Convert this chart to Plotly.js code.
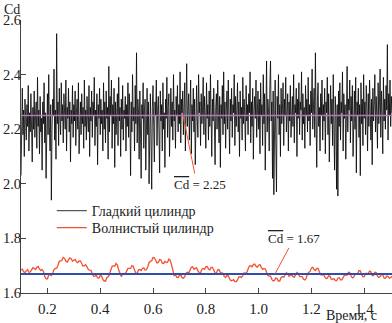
<!DOCTYPE html>
<html><head><meta charset="utf-8">
<script src="https://cdn.plot.ly/plotly-3.0.1.min.js"></script>
<style>html,body{margin:0;padding:0;background:#fff}#chart{width:392px;height:323px}</style>
</head><body><div id="chart"></div>
<script>
// time grid
const smoothT0 = 0.1, smoothDt = 0.0025;
const wavyT0 = 0.1, wavyDt = 0.005;
// Гладкий цилиндр (smooth cylinder) Cd values
const smoothCd = [
2.03,2.22,2.35,2.18,2.27,2.10,2.31,2.24,2.16,2.29,2.21,2.36,2.12,2.26,2.19,2.33,2.23,2.08,2.28,2.20,
2.34,2.17,2.25,2.30,2.13,2.39,2.21,2.27,2.11,2.32,2.19,2.24,2.05,2.30,2.22,2.37,2.15,2.26,2.02,2.28,
2.33,2.18,2.40,2.21,2.12,2.29,1.94,2.20,2.31,2.25,2.42,2.16,2.27,2.09,2.55,2.22,2.30,2.14,2.35,2.24,
2.18,2.37,2.23,2.29,2.15,2.33,2.26,2.20,2.38,2.12,2.28,2.24,2.35,2.19,2.30,2.08,2.27,2.22,2.36,2.17,
2.29,2.23,2.34,2.14,2.26,2.31,2.20,2.37,2.11,2.25,2.30,2.18,2.33,2.22,2.28,2.13,2.38,2.21,2.27,2.16,
2.32,2.24,2.19,2.36,2.10,2.28,2.23,2.34,2.17,2.30,2.25,2.39,2.14,2.27,2.21,2.33,2.07,2.29,2.24,2.35,
2.18,2.31,2.22,2.27,2.12,2.37,2.20,2.30,2.15,2.34,2.24,2.28,2.09,2.43,2.19,2.32,2.25,2.38,2.13,2.29,
2.22,2.35,2.06,2.30,2.18,2.26,2.33,2.14,2.39,2.23,2.28,2.10,2.31,2.20,2.36,2.16,2.27,2.24,2.32,2.12,
2.29,2.21,2.37,2.17,2.33,2.25,2.03,2.30,2.19,2.40,2.23,2.28,2.12,2.36,2.22,2.48,2.15,2.31,2.26,2.09,
2.34,2.20,2.02,2.29,2.24,2.37,2.13,2.27,2.31,2.05,2.26,2.35,2.18,2.30,2.00,2.22,2.33,2.16,1.98,2.28,
2.36,2.21,2.08,2.30,2.25,2.38,2.14,2.27,2.32,2.19,2.04,2.34,2.23,2.29,2.12,2.37,2.20,2.26,2.06,2.31,
2.24,2.39,2.17,2.28,2.33,2.10,2.26,2.35,2.21,2.30,2.16,2.40,2.23,2.27,2.13,2.32,2.25,2.36,2.19,2.29,
2.22,2.41,2.15,2.31,2.26,2.34,2.18,2.28,2.37,2.12,2.30,2.44,2.21,2.27,2.33,2.16,2.25,2.38,2.11,2.29,
2.23,2.35,2.19,2.31,2.07,2.28,2.36,2.24,2.17,2.40,2.26,2.30,2.14,2.33,2.22,2.27,2.39,2.18,2.32,2.25,
2.13,2.37,2.24,2.29,2.16,2.34,2.21,2.40,2.27,2.10,2.31,2.23,2.35,2.19,2.07,2.28,2.33,2.20,2.38,2.26,
2.15,2.32,2.06,2.29,2.24,2.36,2.18,2.41,2.22,2.30,2.13,2.27,2.34,2.20,2.38,2.25,2.11,2.31,2.23,2.35,
2.17,2.29,2.26,2.40,2.14,2.32,2.21,2.27,2.37,2.19,2.30,2.10,2.34,2.24,2.28,2.16,2.39,2.22,2.31,2.25,
2.12,2.36,2.23,2.29,2.18,2.33,2.26,2.41,2.15,2.30,2.21,2.35,2.09,2.27,2.32,2.24,2.38,2.17,2.28,2.34,
2.20,2.31,2.11,2.37,2.25,2.29,2.14,2.40,2.22,2.33,2.05,2.28,2.45,2.19,2.31,2.26,2.12,2.36,2.45,2.23,
2.30,2.02,2.34,1.96,2.27,2.38,2.15,1.97,2.32,2.24,2.40,2.18,2.29,2.10,2.35,2.22,2.27,2.37,2.14,2.31,
2.25,2.39,2.19,2.28,2.33,2.12,2.30,2.23,2.36,2.17,2.27,2.32,2.21,2.40,2.15,2.29,2.26,2.35,2.10,2.31,
2.24,2.37,2.18,2.30,2.27,2.41,2.16,2.33,2.22,2.28,2.13,2.36,2.25,2.31,2.19,2.39,2.23,2.29,2.14,2.34,
2.26,2.42,2.20,2.31,2.35,2.17,2.48,2.24,2.06,2.30,2.37,2.21,2.28,2.12,2.33,2.25,2.38,2.16,2.29,2.23,
2.35,2.11,2.30,2.26,2.39,2.18,2.33,2.08,2.27,2.36,2.22,2.31,2.14,2.40,2.20,2.05,2.32,2.25,1.98,2.29,
1.955,2.34,2.21,2.37,2.16,2.30,2.26,2.41,2.12,2.33,2.24,2.29,2.09,2.36,2.43,2.19,2.31,2.27,2.38,2.15,
2.32,2.23,2.36,2.10,2.28,2.34,2.20,2.39,2.04,2.30,2.25,2.35,2.17,2.29,2.03,2.37,2.22,2.31,2.14,2.40,
2.24,2.30,2.18,2.36,2.27,2.12,2.33,2.21,2.38,2.26,2.16,2.31,2.07,2.35,2.23,2.29,2.40,2.19,2.32,2.25,
2.13,2.37,2.22,2.30,2.42,2.17,2.34,2.26,2.11,2.39,2.23,2.31,2.20,2.36,2.27,2.51,2.16,2.33,2.25,2.38,
2.21,2.32,2.26
];
// Волнистый цилиндр (wavy cylinder) Cd values
const wavyCd = [
1.684,1.687,1.678,1.675,1.681,1.686,1.676,1.677,1.685,1.693,
1.690,1.686,1.694,1.697,1.688,1.682,1.686,1.679,1.660,1.652,
1.652,1.666,1.668,1.664,1.672,1.686,1.690,1.691,1.702,1.716,
1.718,1.720,1.730,1.727,1.716,1.713,1.722,1.729,1.726,1.717,
1.720,1.723,1.714,1.711,1.718,1.718,1.708,1.698,1.700,1.704,
1.696,1.686,1.684,1.683,1.670,1.661,1.662,1.665,1.656,1.654,
1.664,1.662,1.650,1.644,1.644,1.656,1.660,1.667,1.684,1.697,
1.700,1.698,1.708,1.702,1.684,1.667,1.660,1.671,1.672,1.670,
1.680,1.690,1.690,1.690,1.700,1.698,1.684,1.672,1.672,1.685,
1.686,1.682,1.690,1.692,1.684,1.685,1.696,1.711,1.716,1.718,
1.730,1.729,1.720,1.710,1.712,1.723,1.722,1.709,1.708,1.716,
1.712,1.713,1.724,1.720,1.704,1.680,1.664,1.666,1.658,1.656,
1.664,1.666,1.656,1.654,1.660,1.673,1.676,1.673,1.682,1.694,
1.696,1.687,1.690,1.692,1.682,1.673,1.674,1.687,1.690,1.687,
1.696,1.697,1.688,1.685,1.694,1.694,1.684,1.673,1.672,1.685,
1.686,1.675,1.674,1.672,1.660,1.657,1.664,1.663,1.652,1.645,
1.646,1.649,1.642,1.642,1.648,1.659,1.660,1.657,1.664,1.674,
1.672,1.675,1.688,1.699,1.700,1.696,1.704,1.706,1.698,1.694,
1.702,1.704,1.694,1.687,1.690,1.688,1.676,1.664,1.662,1.662,
1.650,1.644,1.646,1.655,1.652,1.644,1.644,1.657,1.660,1.658,
1.666,1.674,1.670,1.661,1.664,1.667,1.660,1.658,1.666,1.675,
1.672,1.661,1.660,1.660,1.650,1.648,1.654,1.670,1.676,1.679,
1.692,1.694,1.686,1.682,1.690,1.690,1.678,1.667,1.666,1.668,
1.660,1.653,1.654,1.663,1.662,1.651,1.650,1.653,1.646,1.645,
1.654,1.656,1.648,1.648,1.656,1.666,1.666,1.666,1.676,1.675,
1.662,1.655,1.658,1.669,1.670,1.671,1.682,1.681,1.668,1.659,
1.660,1.672,1.672,1.671,1.680,1.678,1.664,1.664,1.676,1.675,
1.662,1.657,1.660,1.668,1.666,1.655,1.654,1.662,1.660,1.654,
1.656,1.662
];
const meanSmooth = 2.25, meanWavy = 1.67;
const xRange = [0.1, 1.505];
const yRange = [1.6, 2.6];
const xTicks = [0.2,0.4,0.6,0.8,1.0,1.2,1.4];
const yTicks = [1.6,1.8,2.0,2.2,2.4,2.6];
const seriesNames = ['Гладкий цилиндр','Волнистый цилиндр'];

const tS = smoothCd.map((_,i)=>+(smoothT0+i*smoothDt).toFixed(5));
const tW = wavyCd.map((_,i)=>+(wavyT0+i*wavyDt).toFixed(5));
const serif = 'Liberation Serif, Times New Roman, serif';

const data = [
 {x:tS,y:smoothCd,type:'scatter',mode:'lines',name:seriesNames[0],legend:'legend',line:{color:'#0a0a0a',width:0.85}},
 {x:tW,y:wavyCd,type:'scatter',mode:'lines',name:seriesNames[1],legend:'legend2',line:{color:'#f2502e',width:1.3}},
 {x:xRange,y:[meanSmooth,meanSmooth],type:'scatter',mode:'lines',showlegend:false,line:{color:'#b675b8',width:1.5}},
 {x:xRange,y:[meanWavy,meanWavy],type:'scatter',mode:'lines',showlegend:false,line:{color:'#2e4eae',width:2}}
];
const legendBase = {xanchor:'left',yanchor:'middle',bgcolor:'rgba(0,0,0,0)',font:{family:serif,size:14,color:'#222'},itemwidth:30};
const layout = {
 width:392,height:323,
 margin:{l:21,r:0,t:20,b:30},
 paper_bgcolor:'#fff',plot_bgcolor:'#fff',
 showlegend:true,
 legend:Object.assign({x:0.083,y:0.300},legendBase),
 legend2:Object.assign({x:0.083,y:0.238},legendBase),
 xaxis:{range:xRange,tickvals:xTicks,tickformat:'.1f',ticks:'inside',ticklen:5,tickcolor:'#444',ticklabelstandoff:2,showline:true,linecolor:'#444',linewidth:1,showgrid:false,zeroline:false,tickfont:{family:serif,size:15,color:'#222'}},
 yaxis:{range:yRange,tickvals:yTicks,tickformat:'.1f',ticks:'inside',ticklen:5,tickcolor:'#444',ticklabelstandoff:-4,showline:true,linecolor:'#444',linewidth:1,showgrid:false,zeroline:false,tickfont:{family:serif,size:14.5,color:'#222'}},
 annotations:[
  {xref:'paper',yref:'paper',x:-0.05,y:1.0,yshift:1,xanchor:'left',yanchor:'bottom',text:'Cd',showarrow:false,font:{family:serif,size:14,color:'#222'}},
  {xref:'paper',yref:'paper',x:0.965,y:0,yshift:-32,xanchor:'right',yanchor:'bottom',text:'Время, с',showarrow:false,font:{family:serif,size:14,color:'#222'}},
  {x:0.714,y:meanSmooth,ax:12,ay:60,text:' ',showarrow:true,arrowhead:0,arrowwidth:1,arrowcolor:'#f2502e',font:{size:1}},
  {x:0.778,y:1.996,text:'<span style="text-decoration:overline">Cd</span> = 2.25',showarrow:false,font:{family:serif,size:13,color:'#222'}},
  {x:1.062,y:meanWavy,ax:15,ay:-28,text:' ',showarrow:true,arrowhead:0,arrowwidth:1,arrowcolor:'#f2502e',font:{size:1}},
  {x:1.134,y:1.801,text:'<span style="text-decoration:overline">Cd</span> = 1.67',showarrow:false,font:{family:serif,size:13,color:'#222'}}
 ]
};
Plotly.newPlot('chart',data,layout,{displayModeBar:false,staticPlot:true});
</script></body></html>
